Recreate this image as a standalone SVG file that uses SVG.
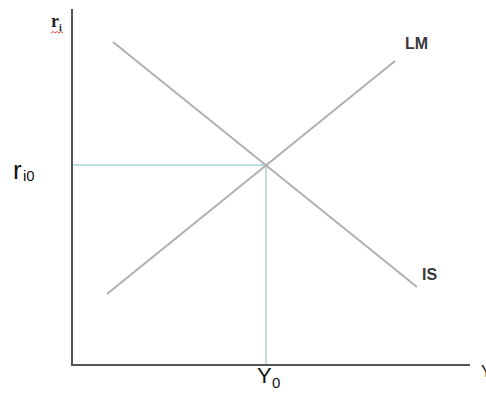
<svg xmlns="http://www.w3.org/2000/svg" width="486" height="411" viewBox="0 0 486 411">
<style>
.axis{stroke:#555;stroke-width:2;fill:none}
.curve{stroke:#b0b0b0;stroke-width:2;fill:none}
.guide{stroke:#a9d3da;stroke-width:1.5;fill:none}
.lbl{font-family:"Liberation Sans",Arial,sans-serif;fill:#111}
.cl{font-family:"Liberation Sans",Arial,sans-serif;font-weight:bold;fill:#3a3a3a;font-size:16px}
</style>
<rect width="486" height="411" fill="#fff"/>
<g id="axes">
<line class="axis" x1="72" y1="9" x2="72" y2="366"/>
<line class="axis" x1="71" y1="365" x2="470" y2="365"/>
</g>
<g id="connectors">
<line class="guide" x1="73" y1="165" x2="266" y2="165"/>
<line class="guide" x1="266" y1="165" x2="266" y2="364"/>
<line id="IS-line" class="curve" x1="113" y1="42" x2="417" y2="287"/>
<line id="LM-line" class="curve" x1="107" y1="294" x2="395" y2="61"/>
</g>
<g id="label-ri">
<text x="51" y="27" style="font-family:'Liberation Serif',serif;font-weight:bold;font-size:18px;fill:#222">r<tspan x="59" y="31" style="font-size:10px">i</tspan></text>
<path d="M51 33 l2 -1.5 l2 1.5 l2 -1.5 l2 1.5 l2 -1.5 l2 1.5" stroke="#e05050" stroke-width="1" fill="none"/>
</g>
<g id="label-ri0">
<text class="lbl" x="13" y="179" font-size="26">r<tspan x="23" y="181" font-size="15">i0</tspan></text>
</g>
<g id="label-LM"><text class="cl" x="405" y="49">LM</text></g>
<g id="label-IS"><text class="cl" x="422" y="280">IS</text></g>
<g id="label-Y0">
<text class="lbl" x="257" y="383" font-size="22">Y<tspan x="272" y="388" font-size="15">0</tspan></text>
</g>
<g id="label-Y"><text class="lbl" x="481" y="377" font-size="16" fill="#555">Y</text></g>
</svg>
